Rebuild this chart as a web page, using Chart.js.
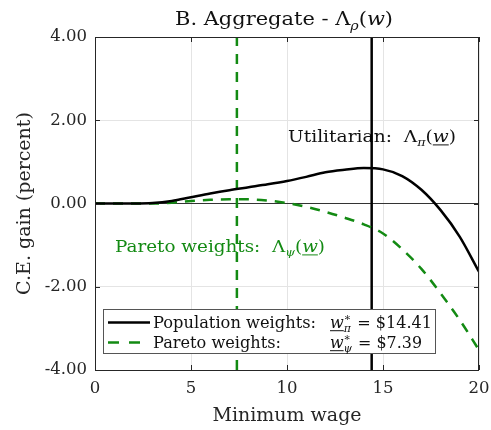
<!DOCTYPE html>
<html>
<head>
<meta charset="utf-8">
<script src="https://cdn.jsdelivr.net/npm/chart.js@4.4.1/dist/chart.umd.min.js"></script>
<style>
  html, body { margin: 0; padding: 0; background: #fff; }
  #wrap { width: 491px; height: 430px; }
</style>
</head>
<body>
<div id="wrap"><canvas id="myChart"></canvas></div>
<script>
// minimum wage grid (dollars)
const wages = [0, 1, 2, 3, 4, 5, 6, 7, 8, 9, 10, 11, 12, 13, 14, 15, 16, 17, 18, 19, 20];
// C.E. gain in percent, population (utilitarian) weights
const utilGain = [0, 0, 0, 0.01, 0.06, 0.15, 0.24, 0.32, 0.39, 0.46, 0.54, 0.64, 0.75, 0.81, 0.85, 0.82, 0.66, 0.33, -0.16, -0.8, -1.64];
// C.E. gain in percent, Pareto weights
const paretoGain = [0, 0, 0, 0, 0.02, 0.06, 0.09, 0.1, 0.1, 0.07, 0.01, -0.08, -0.2, -0.34, -0.5, -0.72, -1.1, -1.57, -2.16, -2.8, -3.52];
// optimal minimum wages
const optPop = 14.41;
const optPareto = 7.39;
const xTicks = [0, 5, 10, 15, 20];
const yTicks = [-4, -2, 0, 2, 4];

const GREEN = '#138a13';
const FONT = 'DejaVu Serif';

Chart.defaults.font.family = FONT;
Chart.defaults.color = '#262626';

function pts(ys) { return wages.map((w, i) => ({ x: w, y: ys[i] })); }
function vline(v) { return [{ x: v, y: yTicks[0] }, { x: v, y: yTicks[yTicks.length - 1] }]; }

// draws a run of text parts, some in math style (italic, sub/superscript, underline)
function rich(ctx, parts, x, y, size, color, width) {
  const fontOf = (k) => {
    const small = (k === 'sb' || k === 'sp' || k === 'ss');
    const it = (k === 'i' || k === 'u' || k === 'sb' || k === 'ss');
    return (it ? 'italic ' : '') + (small ? size * 0.68 : size) + 'px "' + FONT + '"';
  };
  let total = 0;
  const widths = parts.map(([t, k]) => {
    if (k === 'ss') {
      ctx.font = fontOf('sp'); const a = ctx.measureText(t[0]).width;
      ctx.font = fontOf('sb'); const b = ctx.measureText(t[1]).width;
      return Math.max(a, b) + 1;
    }
    ctx.font = fontOf(k);
    return ctx.measureText(t).width;
  });
  widths.forEach(w => total += w);
  const sx = width ? width / total : 1;
  ctx.save();
  ctx.translate(x, y);
  ctx.scale(sx, 1);
  ctx.fillStyle = color;
  ctx.strokeStyle = color;
  ctx.textBaseline = 'alphabetic';
  ctx.textAlign = 'left';
  let cx = 0;
  parts.forEach(([t, k], i) => {
    if (k === 'ss') {
      ctx.font = fontOf('sp'); ctx.fillText(t[0], cx, -size * 0.42);
      ctx.font = fontOf('sb'); ctx.fillText(t[1], cx, size * 0.28);
    } else {
      ctx.font = fontOf(k);
      const dy = k === 'sb' ? size * 0.25 : (k === 'sp' ? -size * 0.42 : 0);
      ctx.fillText(t, cx, dy);
      if (k === 'u') {
        ctx.lineWidth = 1;
        ctx.beginPath();
        ctx.moveTo(cx, size * 0.2); ctx.lineTo(cx + widths[i], size * 0.2);
        ctx.stroke();
      }
    }
    cx += widths[i];
  });
  ctx.restore();
}

const texts = {
  id: 'texts',
  beforeDatasetsDraw(chart) {
    const ctx = chart.ctx;
    rich(ctx, [['B. Aggregate - Λ', 'n'], ['ρ', 'sb'], ['(', 'n'], ['w', 'i'], [')', 'n']], 175, 25, 19, '#111', 218);
    rich(ctx, [['Utilitarian:  Λ', 'n'], ['π', 'sb'], ['(', 'n'], ['w', 'u'], [')', 'n']], 288, 141.5, 17, '#111', 168);
    rich(ctx, [['Pareto weights:  Λ', 'n'], ['ψ', 'sb'], ['(', 'n'], ['w', 'u'], [')', 'n']], 115, 251.5, 17, GREEN, 210);
  },
  afterDatasetsDraw(chart) {
    const { ctx, chartArea: a, scales: { x, y } } = chart;
    ctx.save();
    // box and inward ticks
    ctx.strokeStyle = '#262626';
    ctx.lineWidth = 1;
    ctx.strokeRect(a.left + 0.5, a.top + 0.5, a.right - a.left - 1, a.bottom - a.top);
    ctx.beginPath();
    xTicks.forEach(v => {
      const px = Math.round(x.getPixelForValue(v)) + 0.5;
      ctx.moveTo(px, a.bottom); ctx.lineTo(px, a.bottom - 5);
      ctx.moveTo(px, a.top); ctx.lineTo(px, a.top + 5);
    });
    yTicks.forEach(v => {
      const py = Math.round(y.getPixelForValue(v)) + 0.5;
      ctx.moveTo(a.left, py); ctx.lineTo(a.left + 5, py);
      ctx.moveTo(a.right, py); ctx.lineTo(a.right - 5, py);
    });
    ctx.stroke();

    // legend
    ctx.fillStyle = '#fff';
    ctx.fillRect(103.5, 309.5, 332, 44);
    ctx.strokeStyle = '#555';
    ctx.strokeRect(103.5, 309.5, 332, 44);
    ctx.lineWidth = 2.5;
    ctx.strokeStyle = '#000';
    ctx.beginPath(); ctx.moveTo(108, 322.5); ctx.lineTo(150, 322.5); ctx.stroke();
    ctx.strokeStyle = GREEN;
    ctx.setLineDash([11, 10]);
    ctx.beginPath(); ctx.moveTo(108, 342.5); ctx.lineTo(150, 342.5); ctx.stroke();
    ctx.setLineDash([]);
    rich(ctx, [['Population weights:', 'n']], 153, 327.5, 16, '#111', 163);
    rich(ctx, [['w', 'u'], [['∗', 'π'], 'ss'], [' = $' + optPop.toFixed(2), 'n']], 330, 327.5, 16, '#111', 102);
    rich(ctx, [['Pareto weights:', 'n']], 153, 347.5, 16, '#111', 128);
    rich(ctx, [['w', 'u'], [['∗', 'ψ'], 'ss'], [' = $' + optPareto.toFixed(2), 'n']], 330, 347.5, 16, '#111', 92);
    ctx.restore();
  }
};

new Chart(document.getElementById('myChart'), {
  type: 'line',
  data: {
    datasets: [
      { label: 'Population weights', data: pts(utilGain), borderColor: '#000', borderWidth: 2.5, cubicInterpolationMode: 'monotone' },
      { label: 'Pareto weights', data: pts(paretoGain), borderColor: GREEN, borderWidth: 2.5, borderDash: [10, 8], cubicInterpolationMode: 'monotone' },
      { label: 'opt pop', data: vline(optPop), borderColor: '#000', borderWidth: 2.5 },
      { label: 'opt pareto', data: vline(optPareto), borderColor: GREEN, borderWidth: 2.5, borderDash: [10, 8] },
      { label: 'zero', data: [{ x: xTicks[0], y: 0 }, { x: xTicks[xTicks.length - 1], y: 0 }], borderColor: '#333', borderWidth: 1.2 }
    ]
  },
  options: {
    responsive: true,
    maintainAspectRatio: false,
    animation: false,
    events: [],
    elements: { point: { radius: 0 } },
    layout: { padding: { top: 37, right: 12, left: 0, bottom: 0 } },
    plugins: { legend: { display: false }, tooltip: { enabled: false } },
    scales: {
      x: {
        type: 'linear',
        min: 0, max: 20,
        afterBuildTicks: s => { s.ticks = xTicks.map(v => ({ value: v })); },
        afterFit: s => { s.height = 60; s.paddingLeft = 0; s.paddingRight = 0; },
        grid: { color: '#e4e4e4', drawTicks: false },
        border: { display: false },
        ticks: { font: { size: 16.5 }, padding: 9, maxRotation: 0 },
        title: { display: true, text: 'Minimum wage', font: { size: 19 }, padding: { top: 0, bottom: 3 } }
      },
      y: {
        type: 'linear',
        min: -4, max: 4,
        afterBuildTicks: s => { s.ticks = yTicks.map(v => ({ value: v })); },
        afterFit: s => { s.width = 95; s.paddingTop = 0; s.paddingBottom = 0; },
        grid: { color: '#e4e4e4', drawTicks: false },
        border: { display: false },
        ticks: { font: { size: 16.5 }, padding: 8, callback: v => v.toFixed(2) },
        title: { display: true, text: 'C.E. gain (percent)', font: { size: 19 }, padding: { top: 14, bottom: 0 } }
      }
    }
  },
  plugins: [texts]
});
</script>
</body>
</html>
